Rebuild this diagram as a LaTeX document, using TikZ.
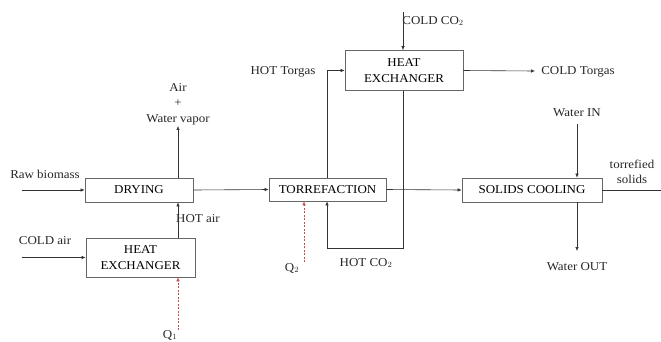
\documentclass[tikz,border=0pt]{standalone}
\usepackage{fontspec}
\setmainfont[FakeStretch=1.08]{Liberation Serif}
\usepackage{tikz}
\usetikzlibrary{arrows.meta,positioning}
\usepackage{xcolor}

\begin{document}
\begin{tikzpicture}[
  x=1pt, y=-1pt,
  unit/.style={rectangle, draw=black!60, fill=white, line width=0.7pt,
               align=center, font=\fontsize{12}{15.5}\selectfont, inner sep=1pt},
  flow/.style={-{Latex[length=4pt,width=3.5pt]}, line width=0.6pt, black!80},
  line/.style={line width=0.6pt, black!80},
  heat/.style={-{Latex[length=4pt,width=3.5pt]}, line width=0.5pt, red!70!black!70,
               dash pattern=on 2pt off 1.5pt},
  label/.style={font=\fontsize{12}{15.5}\selectfont, text=black!85, align=center, inner sep=1pt},
  >=Latex
]
\useasboundingbox (0,0) rectangle (661,341);

% process units
\node[unit, minimum width=108pt, minimum height=24pt] (dry) at (139,190) {DRYING};
\node[unit, minimum width=109pt, minimum height=39pt] (hxa) at (140.5,257.5) {HEAT\\EXCHANGER};
\node[unit, minimum width=117pt, minimum height=23pt] (torr) at (327.5,189.5) {TORREFACTION};
\node[unit, minimum width=118pt, minimum height=40pt] (hxb) at (404,70.5) {HEAT\\EXCHANGER};
\node[unit, minimum width=140pt, minimum height=24pt] (cool) at (532,190) {SOLIDS COOLING};

% stream labels
\node[label] (rawlbl) at (45,174) {Raw biomass};
\node[label] (coldair) at (45,241) {COLD air};
\node[label] (vapor) at (178,104) {Air\\+\\Water vapor};
\node[label] (hotair) at (198,219) {HOT air};
\node[label] (qa) at (170,335) {Q$_1$};
\node[label] (qb) at (292,268) {Q$_2$};
\node[label] (hottor) at (283,72) {HOT Torgas};
\node[label] (coldco) at (433,21) {COLD CO$_2$};
\node[label] (coldtor) at (578,72) {COLD Torgas};
\node[label] (hotco) at (366,263) {HOT CO$_2$};
\node[label] (win) at (577,113) {Water IN};
\node[label] (wout) at (577,267) {Water OUT};
\node[label] (prod) at (632,172) {torrefied\\solids};

% free ends and bends
\coordinate (rawin) at (22,190);
\coordinate (airin) at (22,257.5);
\coordinate (qabot) at (178,330);
\coordinate (qbbot) at (304,262);
\coordinate (torup) at (327,70.5);
\coordinate (codown) at (403,248);
\coordinate (cobend) at (327,248);
\coordinate (coin) at (403,12);
\coordinate (torout) at (535,71);
\coordinate (wtop) at (577,124);
\coordinate (wbot) at (577,251);
\coordinate (prodout) at (661,190);

% drying section
\draw[flow] (rawin) -- (dry.west);
\draw[flow] (airin) -- (hxa.west);
\draw[flow] (dry.north -| 178,0) -- (vapor.south -| 178,0);
\draw[flow] (hxa.north -| 178,0) -- (dry.south -| 178,0);
\draw[heat] (qabot) -- (hxa.south -| 178,0);
\draw[flow] (dry.east) -- (torr.west);

% torrefaction loop
\draw[flow] (torr.north -| torup) -- (torup) -- (hxb.west);
\draw[flow] (coin) -- (hxb.north -| coin);
\draw[flow] (hxb.east) -- (torout);
\draw[flow] (hxb.south -| codown) -- (codown) -- (cobend) -- (torr.south -| cobend);
\draw[heat] (qbbot) -- (torr.south -| qbbot);
\draw[flow] (torr.east) -- (cool.west);

% cooling
\draw[flow] (wtop) -- (cool.north -| wtop);
\draw[flow] (cool.south -| wbot) -- (wbot);
\draw[line] (cool.east) -- (prodout);

\end{tikzpicture}
\end{document}
